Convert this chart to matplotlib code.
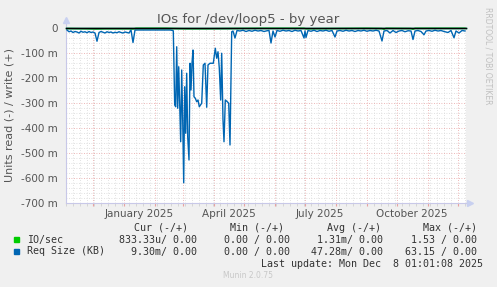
import matplotlib
matplotlib.use("Agg")
import matplotlib.pyplot as plt
import matplotlib.dates as mdates
import matplotlib.ticker as mticker
from matplotlib.transforms import blended_transform_factory
from datetime import datetime, timedelta

# ---------------- data ----------------
START = datetime(2024, 11, 4)
SPAN_DAYS = 400

# Req Size (KB), read side (plotted negative), values in milli-units, day offsets from START
req_days = [1, 3, 5, 7, 9, 11, 13, 15, 17, 19, 21, 23, 25, 27, 29, 31, 33, 35, 37, 39,
            41, 43, 45, 47, 49, 51, 53, 55, 57, 59, 61, 63, 65, 67, 69, 74, 84, 94, 104, 107,
            107.3, 108.7, 109.7, 110.7, 111.7, 112.7, 113.7, 114.7, 115.7, 116.7, 117.7, 118.7,
            119.7, 120.7, 121.7, 123, 124, 125, 126, 127, 128, 129.3, 130.7, 132, 133.3, 135.7,
            137.3, 139, 140.7, 142, 144, 147.3, 149.3, 150.7, 152, 153.3, 154.7, 155.7, 157,
            158, 159.3, 161.3, 162.7, 164, 165.7,
            167, 169, 171, 174, 177, 180, 183, 186, 189, 192, 195, 198, 201, 203, 205, 207, 209,
            211, 214, 217, 220, 223, 226, 229, 232, 235, 238, 239, 240, 242, 245, 248, 251, 254,
            257, 260, 263, 266, 269, 271, 274, 277, 280, 283, 286, 289, 292, 295, 298, 301, 304,
            307, 310, 313, 316, 318, 321, 324, 327, 330, 333, 336, 339, 342, 345, 347, 349, 352,
            355, 358, 360, 363, 366, 369, 372, 375, 378, 382, 385, 388, 390, 393, 396, 399]
req_read = [-8, -15, -12, -18, -14, -16, -20, -13, -17, -15, -19, -14, -18, -16, -20, -53, -18, -14, -17, -20,
            -15, -18, -16, -20, -17, -19, -15, -18, -20, -16, -18, -20, -8, -58, -8, -8, -8, -8, -8, -10,
            -12, -308, -315, -75, -321, -155, -301, -455, -168, -368, -619, -235,
            -421, -181, -435, -528, -141, -248, -141, -88, -275, -281, -295, -288, -315, -301,
            -148, -141, -317, -148, -141, -141, -81, -121, -95, -161, -288, -101, -368,
            -455, -288, -295, -301, -468, -15,
            -12, -40, -10, -12, -9, -14, -10, -13, -9, -12, -10, -14, -11, -10, -60, -12, -36,
            -10, -13, -9, -12, -10, -14, -9, -12, -10, -40, -12, -38, -10, -13, -9, -14, -10,
            -12, -9, -13, -10, -36, -12, -10, -13, -9, -12, -10, -14, -10, -12, -9, -13, -10,
            -12, -9, -12, -52, -12, -10, -20, -10, -18, -12, -10, -15, -11, -12, -46, -12, -10,
            -14, -27, -12, -10, -13, -9, -12, -10, -14, -18, -10, -39, -12, -20, -10, -12]

# IO/sec, read side (plotted negative), milli-units
io_days = [1, 20, 30, 40, 64, 67, 70, 100, 107, 120, 140, 165, 200, 205, 238, 240, 300,
           316, 318, 320, 345, 347, 349, 399]
io_read = [-2, -3, -4, -3, -3, -4, -1, -1, -2, -3, -3, -2, -1, -1, -1, -3, -1,
           -2, -5, -1, -2, -5, -1, -1]

# write side: constant zero for both series
write_days = [0, 400]
write_vals = [0, 0]

month_labels = ["January 2025", "April 2025", "July 2025", "October 2025"]
month_label_dates = [datetime(2025, 1, 16), datetime(2025, 4, 16),
                     datetime(2025, 7, 16), datetime(2025, 10, 16)]

legend_names = ["IO/sec", "Req Size (KB)"]
legend_cur = ["833.33u/ 0.00", "9.30m/ 0.00"]
legend_min = ["0.00 / 0.00", "0.00 / 0.00"]
legend_avg = ["1.31m/ 0.00", "47.28m/ 0.00"]
legend_max = ["1.53 / 0.00", "63.15 / 0.00"]
colors = ["#00CC00", "#0066B3"]

# ---------------- figure ----------------
W, H = 497, 287
fig = plt.figure(figsize=(W / 100, H / 100), dpi=100, facecolor="#F0F0F0")
L, R, T, B = 66, 466, 28, 203
ax = fig.add_axes([L / W, 1 - B / H, (R - L) / W, (B - T) / H])
ax.set_facecolor("white")


def to_dates(days):
    return [START + timedelta(days=d) for d in days]


ax.set_xlim(START, START + timedelta(days=SPAN_DAYS))
ax.set_ylim(-700, 0)

# grid
ax.xaxis.set_major_locator(mdates.MonthLocator())
ax.xaxis.set_minor_locator(mdates.WeekdayLocator(byweekday=mdates.MO))
ax.yaxis.set_major_locator(mticker.MultipleLocator(100))
ax.yaxis.set_minor_locator(mticker.MultipleLocator(20))
ax.grid(which="minor", color="#D8D8D8", linestyle=(0, (1, 2)), linewidth=0.6)
ax.grid(which="major", color="#E8A0A0", linestyle=(0, (1, 2)), linewidth=0.6)
ax.set_axisbelow(True)

ax.xaxis.set_major_formatter(mticker.NullFormatter())
ax.yaxis.set_major_formatter(mticker.FuncFormatter(
    lambda v, p: "0" if abs(v) < 1e-9 else f"{v:.0f} m"))
ax.tick_params(axis="y", which="both", length=0, labelsize=7.5, labelcolor="#555555", pad=6)
ax.tick_params(axis="x", which="major", length=2, color="#E8A0A0", direction="out")
ax.tick_params(axis="x", which="minor", length=2, color="#D0D0D0", direction="out")

trans = blended_transform_factory(ax.transData, ax.transAxes)
for d, lab in zip(month_label_dates, month_labels):
    ax.text(d, -0.035, lab, transform=trans, ha="center", va="top",
            fontsize=7.5, color="#555555")

for s in ["top", "right"]:
    ax.spines[s].set_visible(False)
for s in ["left", "bottom"]:
    ax.spines[s].set_color("#C8C8E8")
    ax.spines[s].set_linewidth(0.8)
# axis arrows
ax.plot([0, 0], [1, 1.045], transform=ax.transAxes, color="#C8C8E8", lw=0.8, clip_on=False)
ax.plot([0], [1.045], marker="^", ms=4, color="#C8D0F0", transform=ax.transAxes, clip_on=False)
ax.plot([1, 1.01], [0, 0], transform=ax.transAxes, color="#C8C8E8", lw=0.8, clip_on=False)
ax.plot([1.01], [0], marker=">", ms=4, color="#C8D0F0", transform=ax.transAxes, clip_on=False)

# series
ax.plot(to_dates(io_days), io_read, color=colors[0], lw=1.0, clip_on=False, zorder=3)
ax.plot(to_dates(req_days), req_read, color=colors[1], lw=1.0, zorder=4)
ax.plot(to_dates(write_days), write_vals, color=colors[0], lw=1.0, clip_on=False, zorder=5)
ax.plot(to_dates(write_days), write_vals, color=colors[1], lw=1.0, clip_on=False, zorder=5)
ax.axhline(0, color="black", lw=1.0, clip_on=False, zorder=6)

# texts
fig.text(248 / W, 1 - 19 / H, "IOs for /dev/loop5 - by year", ha="center", va="center",
         fontsize=9.5, color="#555555")
fig.text(10 / W, 1 - 115 / H, "Units read (-) / write (+)", rotation=90, ha="center",
         va="center", fontsize=8, color="#555555")
fig.text(488 / W, 1 - 56 / H, "RRDTOOL / TOBI OETIKER", rotation=270, ha="center",
         va="center", fontsize=5.5, color="#C0C0C0")

mono = dict(family="DejaVu Sans Mono", fontsize=7.2, color="#333333", va="center")
hy = 1 - 228 / H
fig.text(134 / W, hy, "Cur (-/+)", ha="left", **mono)
fig.text(230 / W, hy, "Min (-/+)", ha="left", **mono)
fig.text(327 / W, hy, "Avg (-/+)", ha="left", **mono)
fig.text(423 / W, hy, "Max (-/+)", ha="left", **mono)
for i, ypx in enumerate([239.5, 251.5]):
    yy = 1 - ypx / H
    fig.patches.append(plt.Rectangle((14 / W, yy - 2.5 / H), 5 / W, 5 / H,
                                     transform=fig.transFigure, color=colors[i]))
    fig.text(27 / W, yy, legend_names[i], ha="left", **mono)
    fig.text(197 / W, yy, legend_cur[i], ha="right", **mono)
    fig.text(290 / W, yy, legend_min[i], ha="right", **mono)
    fig.text(383 / W, yy, legend_avg[i], ha="right", **mono)
    fig.text(477 / W, yy, legend_max[i], ha="right", **mono)
fig.text(483 / W, 1 - 264 / H, "Last update: Mon Dec  8 01:01:08 2025", ha="right", **mono)
fig.text(248 / W, 1 - 276 / H, "Munin 2.0.75", ha="center", va="center",
         fontsize=5.5, color="#C8C8C8")

fig.savefig("out.png", dpi=100, facecolor=fig.get_facecolor())
